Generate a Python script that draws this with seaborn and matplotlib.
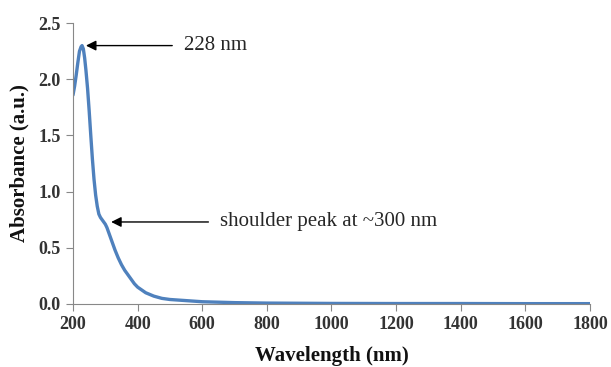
import numpy as np
import pandas as pd
import seaborn as sns
import matplotlib.pyplot as plt

# values
wavelength = [200, 205, 210, 215, 220, 225, 228, 232, 236, 240, 245, 250, 255,
              260, 265, 270, 275, 280, 285, 290, 295, 300, 305, 310, 320, 330,
              340, 350, 360, 375, 390, 400, 425, 450, 475, 500, 550, 600, 700,
              800, 1000, 1200, 1400, 1600, 1800]
absorbance = [1.86, 1.94, 2.04, 2.15, 2.25, 2.29, 2.30, 2.27, 2.19, 2.08, 1.92,
              1.72, 1.50, 1.29, 1.11, 0.97, 0.87, 0.80, 0.77, 0.75, 0.73, 0.71,
              0.68, 0.64, 0.56, 0.48, 0.41, 0.35, 0.30, 0.24, 0.18, 0.15, 0.10,
              0.07, 0.05, 0.04, 0.03, 0.02, 0.012, 0.008, 0.005, 0.004, 0.004,
              0.003, 0.003]
x_ticks = [200, 400, 600, 800, 1000, 1200, 1400, 1600, 1800]
y_ticks = [0.0, 0.5, 1.0, 1.5, 2.0, 2.5]

df = pd.DataFrame({"wavelength": wavelength, "absorbance": absorbance})

sns.set_style("ticks")
plt.rcParams["font.family"] = ["Liberation Serif", "DejaVu Serif"]

fig = plt.figure(figsize=(6.11, 3.67), dpi=100)
ax = fig.add_axes([0.1195, 0.1717, 0.846, 0.7653])
sns.lineplot(data=df, x="wavelength", y="absorbance", ax=ax,
             color="#4f81bd", linewidth=2.4)

ax.set_xlim(200, 1800)
ax.set_ylim(0, 2.5)
ax.set_xticks(x_ticks)
ax.set_yticks(y_ticks)
ax.set_yticklabels([f"{v:.1f}" for v in y_ticks])
ax.tick_params(axis="both", labelsize=13, color="#888888", length=5, pad=4)
for lab in ax.get_xticklabels() + ax.get_yticklabels():
    lab.set_fontweight("bold")
    lab.set_color("#333333")

sns.despine(ax=ax)
ax.spines["left"].set_color("#888888")
ax.spines["bottom"].set_color("#888888")

ax.set_xlabel("Wavelength (nm)", fontsize=15, fontweight="bold",
              color="#111111", labelpad=9)
ax.set_ylabel("Absorbance (a.u.)", fontsize=15, fontweight="bold",
              color="#111111", labelpad=6)

arrow = dict(arrowstyle="-|>", color="black", lw=1.0, shrinkA=6, shrinkB=0)
ax.annotate("228 nm", xy=(240, 2.30), xytext=(543, 2.30), fontsize=15,
            va="center", ha="left", arrowprops=arrow)
ax.annotate("shoulder peak at ~300 nm", xy=(318, 0.73), xytext=(655, 0.73),
            fontsize=15, va="center", ha="left", arrowprops=arrow)

fig.savefig("out.png", dpi=100)
